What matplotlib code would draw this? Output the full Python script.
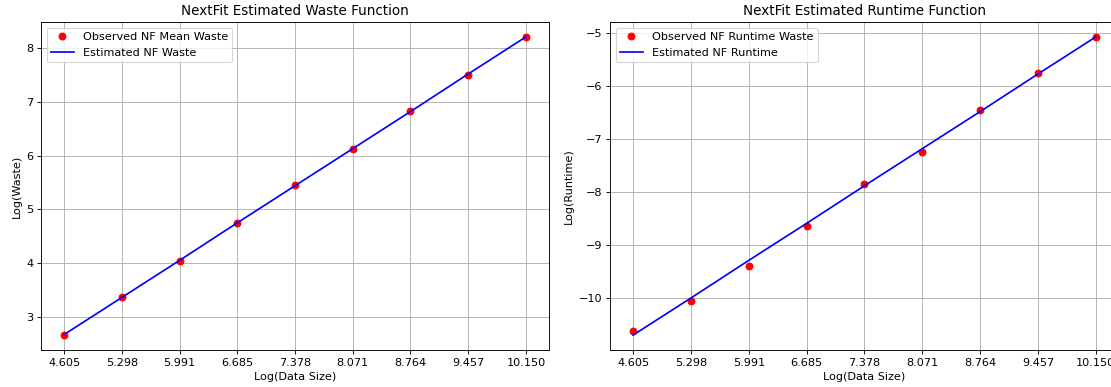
import numpy as np
import matplotlib.pyplot as plt

# log(data size)
log_n = [4.605, 5.298, 5.991, 6.685, 7.378, 8.071, 8.764, 9.457, 10.150]

# waste
obs_waste = [2.66, 3.36, 4.04, 4.75, 5.45, 6.13, 6.84, 7.51, 8.21]
est_waste = [2.67, 3.36, 4.05, 4.75, 5.44, 6.13, 6.82, 7.52, 8.21]

# runtime
obs_runtime = [-10.62, -10.05, -9.39, -8.64, -7.84, -7.24, -6.45, -5.75, -5.07]
est_runtime = [-10.70, -10.00, -9.29, -8.59, -7.88, -7.18, -6.48, -5.77, -5.07]

tick_labels = [f"{v:.3f}" for v in log_n]

dpi = 81
fig = plt.figure(figsize=(1111 / dpi, 387 / dpi), dpi=dpi)
ax1 = fig.add_axes([0.0369, 0.0956, 0.4572, 0.8475])
ax2 = fig.add_axes([0.549, 0.0956, 0.4581, 0.8475])

ax1.plot(log_n, obs_waste, 'ro', label="Observed NF Mean Waste")
ax1.plot(log_n, est_waste, 'b-', label="Estimated NF Waste")
ax1.set_title("NextFit Estimated Waste Function")
ax1.set_xlabel("Log(Data Size)")
ax1.set_ylabel("Log(Waste)")

ax2.plot(log_n, obs_runtime, 'ro', label="Observed NF Runtime Waste")
ax2.plot(log_n, est_runtime, 'b-', label="Estimated NF Runtime")
ax2.set_title("NextFit Estimated Runtime Function")
ax2.set_xlabel("Log(Data Size)")
ax2.set_ylabel("Log(Runtime)")

for ax in (ax1, ax2):
    ax.set_xticks(log_n)
    ax.set_xticklabels(tick_labels)
    ax.grid(True)
    ax.legend(loc="upper left")

plt.savefig("out.png", dpi=dpi)
